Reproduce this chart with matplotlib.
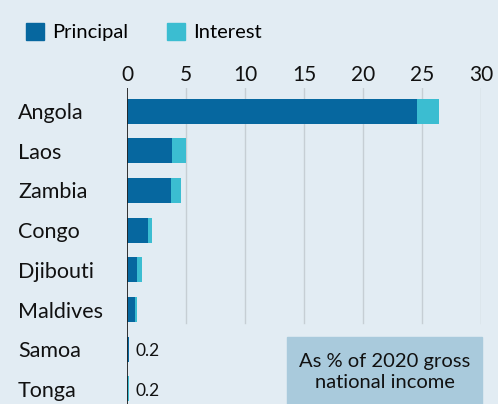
import matplotlib
matplotlib.use("Agg")
import matplotlib.pyplot as plt
from matplotlib.patches import Patch

countries = ["Angola", "Laos", "Zambia", "Congo", "Djibouti", "Maldives", "Samoa", "Tonga"]
principal = [24.6, 3.85, 3.75, 1.8, 0.85, 0.65, 0.15, 0.12]
interest = [1.8, 1.15, 0.8, 0.3, 0.45, 0.2, 0.05, 0.05]
small_labels = {"Samoa": "0.2", "Tonga": "0.2"}
xticks = [0, 5, 10, 15, 20, 25, 30]

BG = "#e2ecf3"
C_P = "#06679f"
C_I = "#3bbdd1"
FONT = "Lato"

W, H = 498, 404
fig = plt.figure(figsize=(W / 100, H / 100), dpi=100, facecolor=BG)
ax = fig.add_axes([127 / W, 0, 354 / W, (404 - 88) / H])
ax.set_facecolor(BG)

ys = list(range(len(countries)))
ax.barh(ys, principal, height=0.63, color=C_P, zorder=3)
ax.barh(ys, interest, left=principal, height=0.63, color=C_I, zorder=3)

ax.set_xlim(0, 30)
ax.set_ylim(7.38, -0.58)

# gridlines (stop above annotation box)
for t in xticks[1:]:
    ax.plot([t, t], [-0.58, 5.34], color="#c6ced4", lw=1, zorder=1)
ax.axvline(0, color="#222222", lw=1.3, zorder=4)

ax.xaxis.tick_top()
ax.set_xticks(xticks)
ax.set_xticklabels([str(t) for t in xticks], fontsize=15, family=FONT, color="#111111")
ax.tick_params(axis="x", length=0, pad=2)
ax.set_yticks(ys)
ax.set_yticklabels(countries, fontsize=15.5, family=FONT, color="#111111", ha="left")
ax.tick_params(axis="y", length=0, pad=109 * 0.72)
for s in ax.spines.values():
    s.set_visible(False)

for i, c in enumerate(countries):
    if c in small_labels:
        ax.text(principal[i] + interest[i] + 0.55, i + 0.05, small_labels[c], va="center",
                ha="left", fontsize=12.5, family=FONT, color="#111111", zorder=5)

# annotation box
fig.patches.append(plt.Rectangle((287 / W, 0), (482 - 287) / W, (404 - 337) / H,
                                 transform=fig.transFigure, color="#a9cadc", zorder=0))
fig.text((287 + 482) / 2 / W, (404 - 372) / H, "As % of 2020 gross\nnational income",
         ha="center", va="center", fontsize=14.5, family=FONT, color="#111111",
         linespacing=1.3)

handles = [Patch(color=C_P, label="Principal"), Patch(color=C_I, label="Interest")]
fig.legend(handles=handles, loc="center left", bbox_to_anchor=(8 / W, (404 - 32) / H),
           ncol=2, frameon=False, prop={"family": FONT, "size": 14.5},
           handlelength=0.9, handleheight=0.9, handletextpad=0.4, columnspacing=1.9)

fig.savefig("out.png", dpi=100, facecolor=BG)
